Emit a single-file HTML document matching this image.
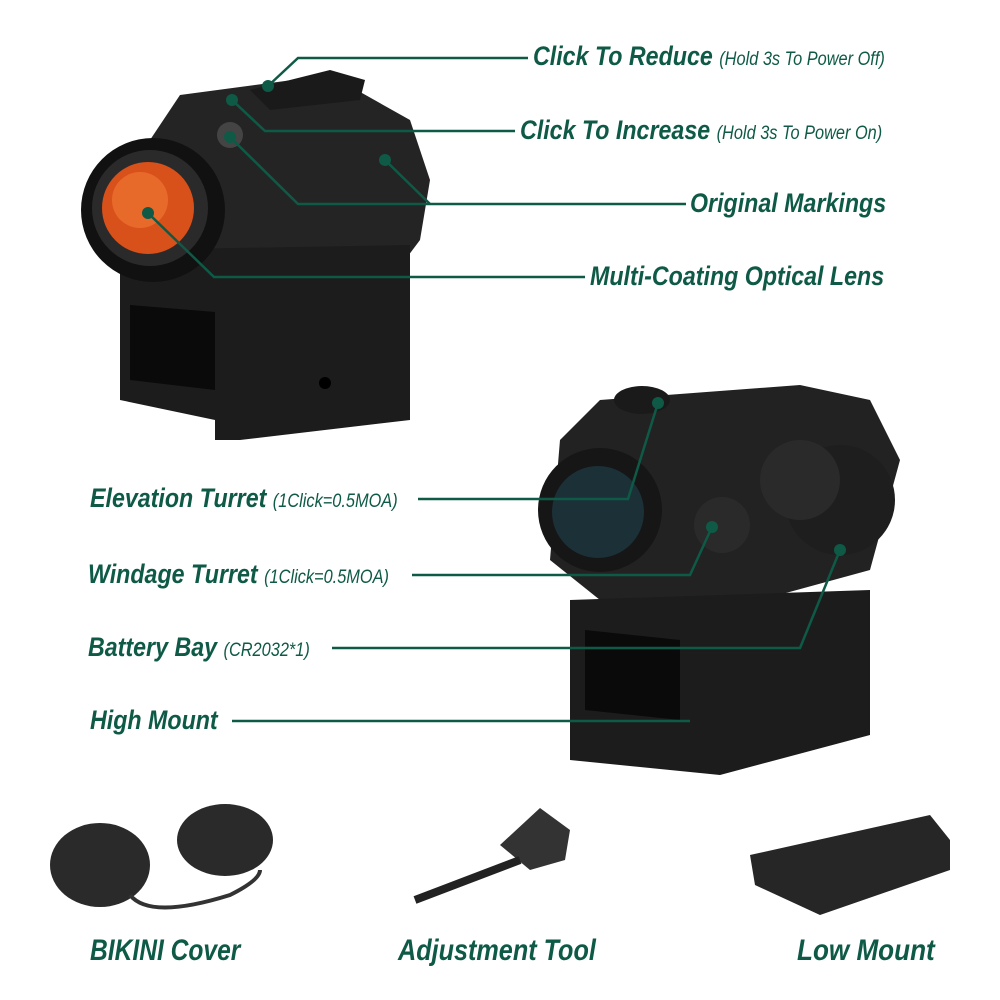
<!DOCTYPE html>
<html><head><style>
body{margin:0;width:1000px;height:1000px;background:#fff;position:relative;overflow:hidden;font-family:"Liberation Sans",sans-serif}
.t{position:absolute;color:#0e5a46;font-weight:bold;font-style:italic;white-space:nowrap;font-size:27px;line-height:1;transform:scaleX(0.86);transform-origin:0 0}
.t small{font-size:19px;font-weight:normal}
svg{position:absolute;left:0;top:0}
</style></head><body>
<svg width="1000" height="1000">
<path d="M150 140 L180 95 L330 75 L410 120 L430 180 L420 240 L390 280 L250 300 L150 290 Z" fill="#242424"/>
<path d="M250 90 L330 70 L365 80 L360 100 L270 110Z" fill="#1a1a1a"/>
<path d="M120 250 L410 245 L410 420 L240 440 L215 440 L215 420 L120 400 Z" fill="#1c1c1c"/>
<path d="M130 305 L215 312 L215 390 L130 380Z" fill="#0a0a0a"/>
<circle cx="153" cy="210" r="72" fill="#111"/>
<circle cx="150" cy="208" r="58" fill="#2a2a2a"/>
<circle cx="148" cy="208" r="46" fill="#d8501a"/>
<circle cx="140" cy="200" r="28" fill="#e86a2a"/>
<circle cx="230" cy="135" r="13" fill="#444"/>
<circle cx="325" cy="383" r="6" fill="#000"/>
<path d="M560 440 L600 400 L800 385 L870 400 L900 460 L870 570 L760 600 L600 600 L550 560Z" fill="#222"/>
<circle cx="600" cy="510" r="62" fill="#161616"/>
<circle cx="598" cy="512" r="46" fill="#1c3038"/>
<circle cx="840" cy="500" r="55" fill="#1e1e1e"/>
<circle cx="800" cy="480" r="40" fill="#2a2a2a"/>
<circle cx="722" cy="525" r="28" fill="#2a2a2a"/>
<ellipse cx="642" cy="400" rx="28" ry="14" fill="#1a1a1a"/>
<path d="M570 600 L870 590 L870 735 L720 775 L570 760Z" fill="#1c1c1c"/>
<path d="M585 630 L680 640 L680 720 L585 710Z" fill="#0a0a0a"/>
<ellipse cx="100" cy="865" rx="50" ry="42" fill="#2a2a2a"/>
<ellipse cx="225" cy="840" rx="48" ry="36" fill="#2a2a2a"/>
<path d="M130 895 Q150 920 230 895 Q260 880 260 870" stroke="#333" stroke-width="4" fill="none"/>
<path d="M540 808 L570 830 L565 860 L530 870 L500 845 Z" fill="#333"/>
<path d="M520 860 L415 900" stroke="#222" stroke-width="8"/>
<path d="M750 855 L930 815 L950 840 L950 870 L820 915 L755 885Z" fill="#262626"/>
<g stroke="#0e5a46" stroke-width="2.5" fill="none">
<path d="M268 86 L298 58 L528 58"/>
<path d="M232 100 L265 131 L515 131"/>
<path d="M230 137 L298 204 L686 204"/>
<path d="M385 160 L430 204"/>
<path d="M148 213 L214 277 L585 277"/>
<path d="M418 499 L628 499 L658 403"/>
<path d="M412 575 L690 575 L712 527"/>
<path d="M332 648 L800 648 L840 550"/>
<path d="M232 721 L690 721"/>
</g>
<g fill="#0e5a46"><circle cx="268" cy="86" r="6"/><circle cx="232" cy="100" r="6"/><circle cx="230" cy="137" r="6"/><circle cx="385" cy="160" r="6"/><circle cx="148" cy="213" r="6"/><circle cx="658" cy="403" r="6"/><circle cx="712" cy="527" r="6"/><circle cx="840" cy="550" r="6"/></g>
</svg>
<div class="t" style="left:533px;top:43px">Click To Reduce <small>(Hold 3s To Power Off)</small></div>
<div class="t" style="left:520px;top:117px">Click To Increase <small>(Hold 3s To Power On)</small></div>
<div class="t" style="left:690px;top:190px">Original Markings</div>
<div class="t" style="left:590px;top:263px">Multi-Coating Optical Lens</div>
<div class="t" style="left:90px;top:485px">Elevation Turret <small>(1Click=0.5MOA)</small></div>
<div class="t" style="left:88px;top:561px">Windage Turret <small>(1Click=0.5MOA)</small></div>
<div class="t" style="left:88px;top:634px">Battery Bay <small>(CR2032*1)</small></div>
<div class="t" style="left:90px;top:707px">High Mount</div>
<div class="t" style="left:90px;top:936px;font-size:30px;transform:scaleX(0.82)">BIKINI Cover</div>
<div class="t" style="left:398px;top:936px;font-size:30px;transform:scaleX(0.84)">Adjustment Tool</div>
<div class="t" style="left:797px;top:936px;font-size:30px;transform:scaleX(0.87)">Low Mount</div>
</body></html>
